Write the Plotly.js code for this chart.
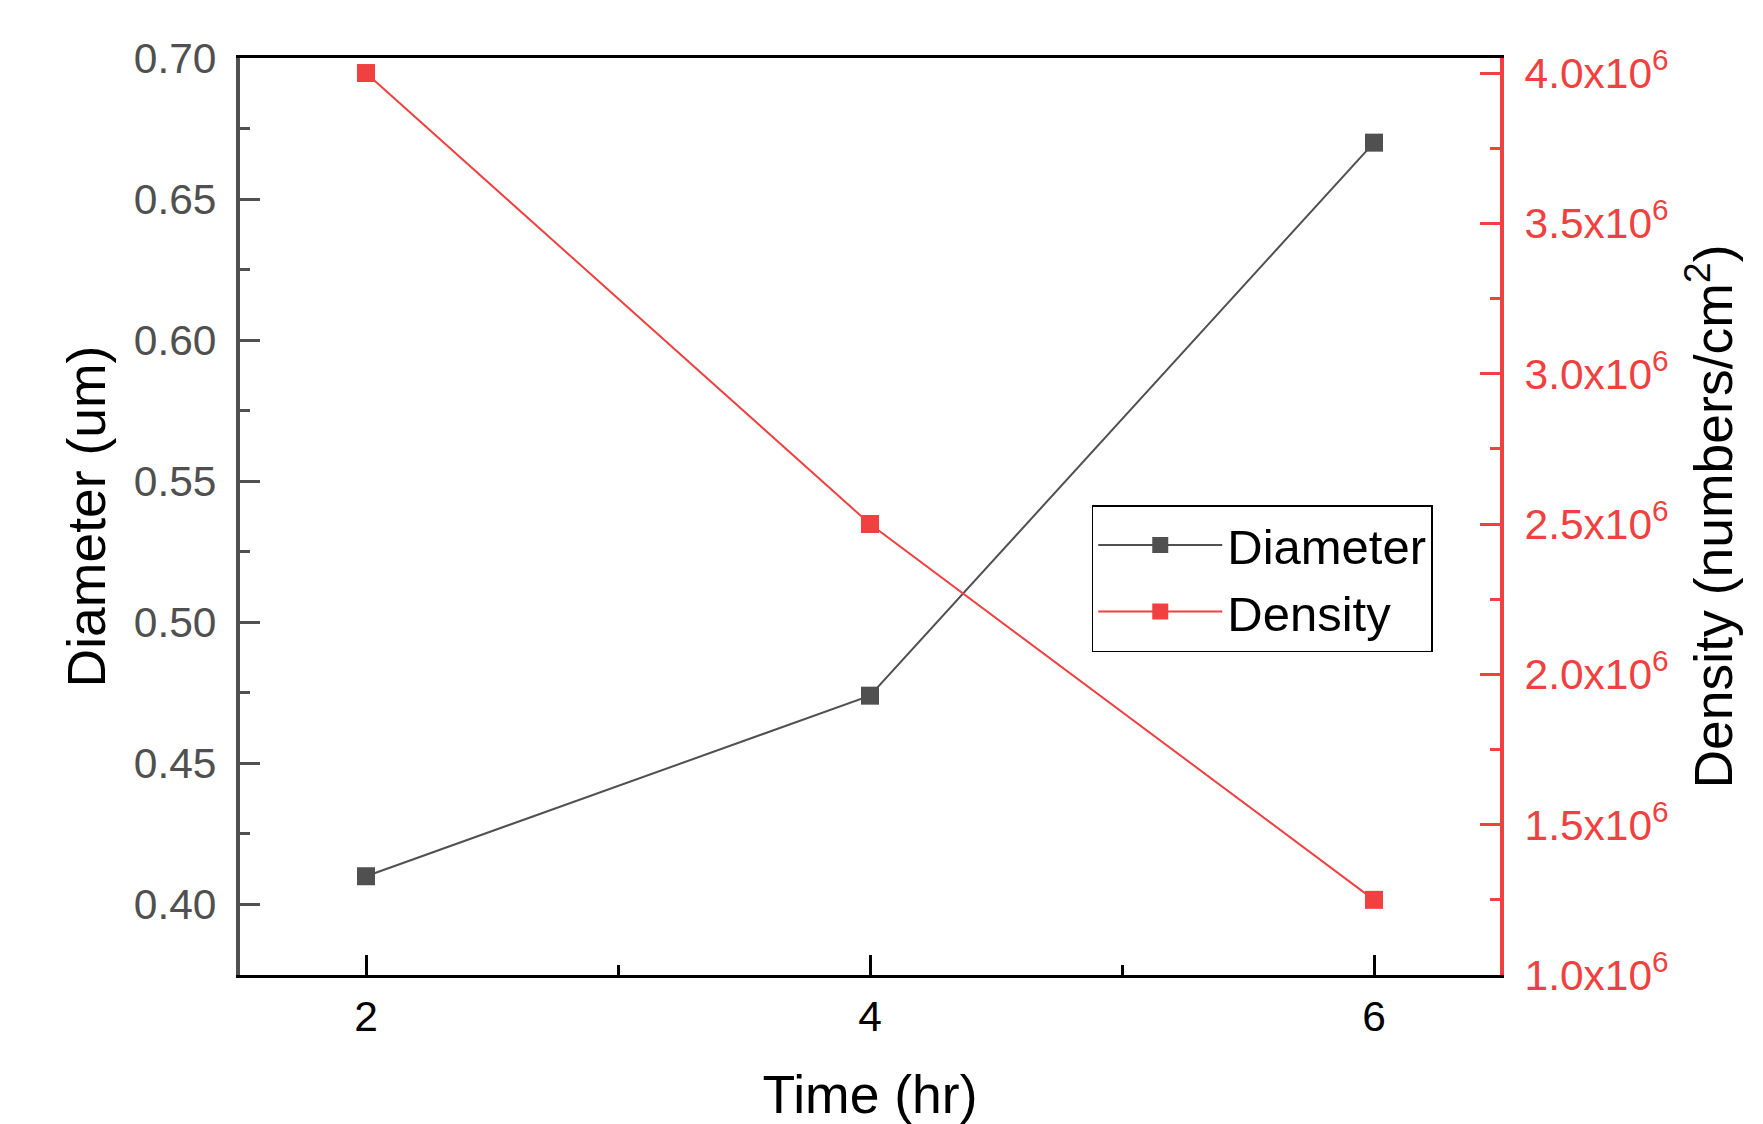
<!DOCTYPE html>
<html>
<head>
<meta charset="utf-8">
<script src="https://cdn.plot.ly/plotly-3.0.1.min.js"></script>
<style>html,body{margin:0;padding:0;background:#fff;}#chart{width:1763px;height:1124px;}</style>
</head>
<body>
<div id="chart"></div>
<script>
const timeHr = [2, 4, 6];
const diameterUm = [0.410, 0.474, 0.670];
const densityPerCm2 = [4.0e6, 2.5e6, 1.25e6];
const xTickVals = [2, 4, 6];
const leftTickVals = [0.40, 0.45, 0.50, 0.55, 0.60, 0.65, 0.70];
const rightTickVals = [1.0e6, 1.5e6, 2.0e6, 2.5e6, 3.0e6, 3.5e6, 4.0e6];
const rightTickText = ["1.0x10<sup>6</sup>", "1.5x10<sup>6</sup>", "2.0x10<sup>6</sup>", "2.5x10<sup>6</sup>", "3.0x10<sup>6</sup>", "3.5x10<sup>6</sup>", "4.0x10<sup>6</sup>"];

const FONT = "Arial, 'Liberation Sans', sans-serif";
const GRAY = "#505050";
const RED = "#f04040";

const traces = [
  {
    x: timeHr, y: diameterUm, name: "Diameter", type: "scatter", mode: "lines+markers",
    line: {color: GRAY, width: 2}, marker: {symbol: "square", size: 18, color: GRAY},
    xaxis: "x", yaxis: "y"
  },
  {
    x: timeHr, y: densityPerCm2, name: "Density", type: "scatter", mode: "lines+markers",
    line: {color: RED, width: 2}, marker: {symbol: "square", size: 18, color: RED},
    xaxis: "x", yaxis: "y2"
  }
];

const layout = {
  width: 1763, height: 1124,
  margin: {l: 240, r: 263, t: 58, b: 149},
  paper_bgcolor: "#ffffff", plot_bgcolor: "#ffffff",
  font: {family: FONT, color: "#000"},
  showlegend: true,
  legend: {
    x: 0.676, y: 0.5125, xanchor: "left", yanchor: "top",
    bordercolor: "#000", borderwidth: 1.5, bgcolor: "#fff",
    font: {family: FONT, size: 49, color: "#000"},
    itemwidth: 124, tracegroupgap: 0
  },
  xaxis: {
    range: [1.5, 6.5], tickvals: xTickVals, ticktext: xTickVals.map(String),
    showgrid: false, zeroline: false,
    showline: true, linecolor: "#000", linewidth: 3, mirror: true,
    ticks: "inside", ticklen: 20, tickwidth: 3, tickcolor: "#000",
    minor: {tickvals: [3, 5], ticks: "inside", ticklen: 10, tickwidth: 3, tickcolor: "#000"},
    tickfont: {family: FONT, size: 42.5, color: "#000"},
    ticklabelstandoff: 2,
    title: {text: "Time (hr)", font: {family: FONT, size: 53.5, color: "#000"}, standoff: 40}
  },
  yaxis: {
    range: [0.375, 0.70], tickvals: leftTickVals, tickformat: ".2f",
    showgrid: false, zeroline: false,
    showline: true, linecolor: GRAY, linewidth: 4,
    ticks: "inside", ticklen: 20, tickwidth: 3, tickcolor: GRAY,
    minor: {dtick: 0.025, ticks: "inside", ticklen: 10, tickwidth: 3, tickcolor: GRAY},
    tickfont: {family: FONT, size: 42.5, color: GRAY},
    ticklabelstandoff: 11,
    title: {text: "Diameter (um)", font: {family: FONT, size: 53.5, color: "#000"}, standoff: 12}
  },
  yaxis2: {
    overlaying: "y", side: "right",
    range: [1.0e6, 4.05e6], tickvals: rightTickVals, ticktext: rightTickText,
    showgrid: false, zeroline: false,
    showline: true, linecolor: RED, linewidth: 4,
    ticks: "inside", ticklen: 20, tickwidth: 3, tickcolor: RED,
    minor: {dtick: 2.5e5, ticks: "inside", ticklen: 10, tickwidth: 3, tickcolor: RED},
    tickfont: {family: FONT, size: 42.5, color: RED},
    ticklabelstandoff: 12,
    title: {text: "Density (numbers/cm<sup>2</sup>)", font: {family: FONT, size: 53.5, color: "#000"}, standoff: 28}
  }
};

Plotly.newPlot("chart", traces, layout, {displayModeBar: false, staticPlot: true});
</script>
</body>
</html>
